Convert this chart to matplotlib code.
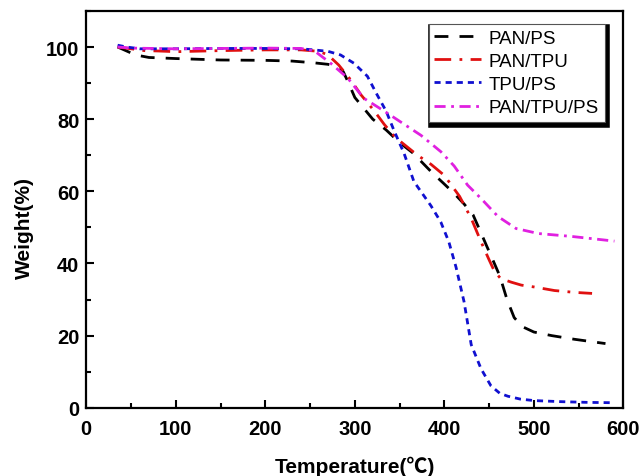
import matplotlib
matplotlib.use("Agg")
import matplotlib.pyplot as plt
from matplotlib.ticker import MultipleLocator

plt.rcParams["font.family"] = ["Liberation Sans", "Noto Sans CJK SC", "DejaVu Sans"]

# TGA curves: temperature (°C) vs residual weight (%)
t_pan_ps = [35, 45, 55, 70, 100, 150, 200, 230, 255, 270, 280, 287, 293, 300, 310, 320, 335,
            350, 365, 385, 400, 411, 422, 432, 440, 447, 455, 462, 470, 478, 487, 500, 520, 545, 580]
w_pan_ps = [100, 98.9, 97.8, 97.1, 96.8, 96.4, 96.3, 96.1, 95.6, 95.2, 94.6, 93.2, 90, 86, 83, 80, 77,
            73.5, 70.6, 65.5, 62, 59.4, 56.5, 53.5, 49, 45, 40.5, 36.5, 30, 25, 22.5, 21, 20, 19, 17.8]

t_pan_tpu = [35, 50, 65, 80, 100, 150, 200, 240, 260, 270, 282, 295, 307, 321, 333, 345, 360, 370,
             385, 400, 417, 430, 441, 450, 456, 463, 475, 486, 500, 523, 545, 565]
w_pan_tpu = [100, 99.5, 99, 98.9, 98.7, 99, 99.2, 99.2, 98.8, 97.8, 95, 91, 86.7, 82.5, 78.5, 75, 72, 70,
             67.5, 64.4, 58.6, 52.5, 46, 41, 37.8, 35.8, 34.8, 34, 33.5, 32.5, 32, 31.7]

t_tpu_ps = [35, 45, 60, 100, 150, 200, 240, 254, 270, 284, 299, 314, 325, 335, 344, 355, 366, 385,
            396, 405, 413, 422, 430, 441, 452, 462, 471, 485, 500, 530, 560, 590]
w_tpu_ps = [100.5, 100, 99.5, 99.5, 99.6, 99.6, 99.5, 99.2, 98.8, 97.8, 95.5, 91.9, 86.7, 82.2, 76.7, 70.5, 62.7, 56,
            51.5, 46, 39, 29.4, 17.5, 10.8, 6.1, 4, 3.2, 2.4, 2, 1.7, 1.5, 1.4]

t_pan_tpu_ps = [35, 50, 100, 150, 200, 240, 255, 273, 292, 310, 333, 355, 374, 396, 411, 426, 441,
                460, 480, 505, 542, 590]
w_pan_tpu_ps = [100, 99.7, 99.5, 99.6, 99.7, 99.6, 98.9, 95.5, 91.4, 85.8, 82.2, 78.6, 75.5, 71, 67, 61.7, 58,
                53, 49.7, 48.3, 47.5, 46.2]

x_ticks = [0, 100, 200, 300, 400, 500, 600]
y_ticks = [0, 20, 40, 60, 80, 100]

fig = plt.figure(figsize=(6.44, 4.77), dpi=100)
ax = fig.add_axes([0.134, 0.143, 0.834, 0.832])

lw = 2.0
ax.plot(t_pan_ps, w_pan_ps, color="black", lw=lw, dashes=(5, 4), label="PAN/PS")
ax.plot(t_pan_tpu, w_pan_tpu, color="#e01010", lw=lw, dashes=(6, 3, 1, 3), label="PAN/TPU")
ax.plot(t_tpu_ps, w_tpu_ps, color="#1010d0", lw=lw, dashes=(2.2, 1.8), label="TPU/PS")
ax.plot(t_pan_tpu_ps, w_pan_tpu_ps, color="#e020e0", lw=lw, dashes=(4, 2, 1, 2), label="PAN/TPU/PS")

ax.set_xlim(0, 600)
ax.set_ylim(0, 110)
ax.set_xticks(x_ticks)
ax.set_yticks(y_ticks)
ax.xaxis.set_minor_locator(MultipleLocator(50))
ax.yaxis.set_minor_locator(MultipleLocator(10))
ax.tick_params(which="both", direction="in", width=1.5, top=False, right=False)
ax.tick_params(which="major", length=6, labelsize=14.5)
ax.tick_params(axis="x", which="major", pad=8)
ax.tick_params(axis="y", which="major", pad=5)
ax.tick_params(which="minor", length=3.5)
for lab in ax.get_xticklabels() + ax.get_yticklabels():
    lab.set_fontweight("bold")
for sp in ax.spines.values():
    sp.set_linewidth(1.6)

ax.set_xlabel("Temperature(℃)", fontsize=15, fontweight="bold", labelpad=13)
ax.set_ylabel("Weight(%)", fontsize=15, fontweight="bold")
ax.yaxis.set_label_coords(-0.098, 0.455)

leg = ax.legend(loc="upper right", bbox_to_anchor=(0.965, 0.967), fontsize=13.5,
                handlelength=2.5, handletextpad=0.4, labelspacing=0.32, borderpad=0.3,
                borderaxespad=0, fancybox=False, framealpha=1, edgecolor="#555555",
                shadow={"color": "black", "alpha": 1, "linewidth": 4})
leg.get_frame().set_linewidth(0.8)

fig.savefig("out.png", dpi=100)
